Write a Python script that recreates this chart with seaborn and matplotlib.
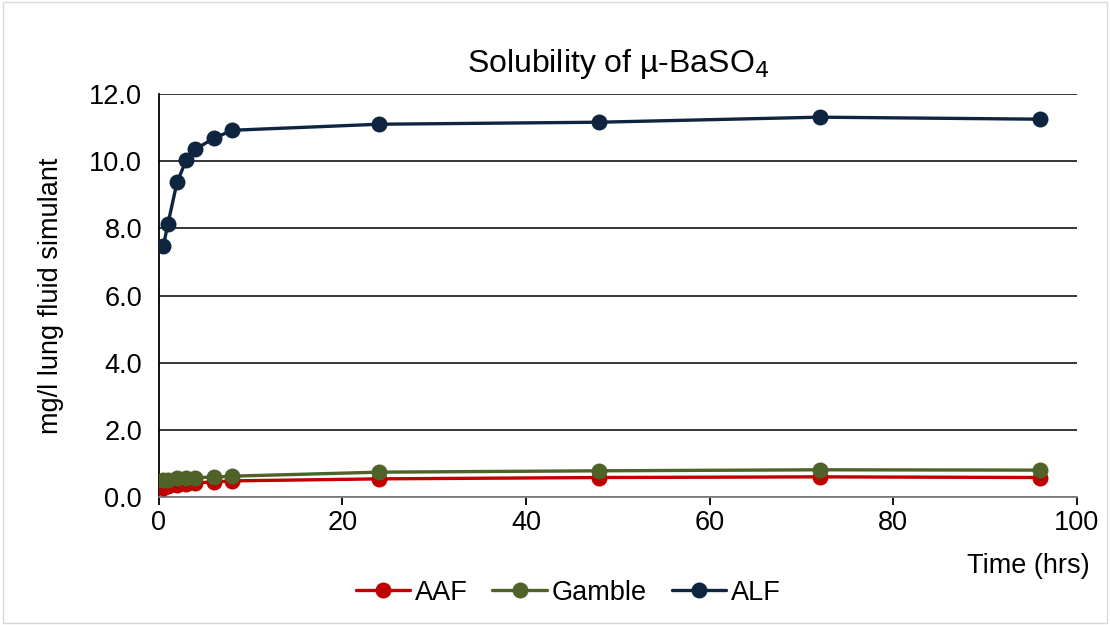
import matplotlib
matplotlib.use("Agg")
import matplotlib.pyplot as plt
import seaborn as sns
import pandas as pd

time_hrs = [0.5, 1, 2, 3, 4, 6, 8, 24, 48, 72, 96]
aaf = [0.28, 0.32, 0.37, 0.40, 0.42, 0.45, 0.48, 0.54, 0.58, 0.60, 0.58]
gamble = [0.50, 0.52, 0.56, 0.57, 0.58, 0.59, 0.62, 0.74, 0.78, 0.81, 0.80]
alf = [7.47, 8.13, 9.38, 10.03, 10.36, 10.68, 10.92, 11.10, 11.16, 11.31, 11.25]
series_names = ["AAF", "Gamble", "ALF"]
colors = ["#C00000", "#4F6228", "#0F243E"]

df = pd.DataFrame({
    "time": time_hrs * 3,
    "value": aaf + gamble + alf,
    "series": sum([[n] * len(time_hrs) for n in series_names], []),
})

sns.set_theme(style="white")
plt.rcParams["font.family"] = ["Liberation Sans", "DejaVu Sans"]
plt.rcParams["text.color"] = "black"
plt.rcParams["axes.labelcolor"] = "black"
plt.rcParams["xtick.color"] = "black"
plt.rcParams["ytick.color"] = "black"

FS = 19.5

fig = plt.figure(figsize=(11.1, 6.25), dpi=100)
ax = fig.add_axes([0.143, 0.2048, 0.827, 0.6448])

sns.lineplot(data=df, x="time", y="value", hue="series", hue_order=series_names,
             palette=colors, marker="o", markersize=11.5, linewidth=2.4,
             markeredgewidth=0, ax=ax, legend=True, zorder=3)

ax.set_xlim(0, 100)
ax.set_ylim(0, 12)
ax.set_xticks(range(0, 101, 20))
ax.set_yticks(range(0, 13, 2))
ax.set_yticklabels([f"{v:.1f}" for v in range(0, 13, 2)])
ax.yaxis.grid(True, color="black", linewidth=1.1)
ax.set_axisbelow(True)
for s in ["top", "right"]:
    ax.spines[s].set_visible(False)
ax.spines["left"].set_color("black")
ax.spines["left"].set_linewidth(1.3)
ax.spines["bottom"].set_color("#7f7f7f")
ax.spines["bottom"].set_linewidth(1.3)
ax.tick_params(axis="x", direction="out", length=6, width=1.3, color="black",
               labelcolor="black", labelsize=FS, pad=3, bottom=True)
ax.tick_params(axis="y", length=0, labelsize=FS, labelcolor="black", pad=12)
ax.set_xlabel("")
ax.set_ylabel("mg/l lung fluid simulant", fontsize=FS, labelpad=18, color="black")
fig.text(0.982, 0.094, "Time (hrs)", ha="right", va="center", fontsize=FS, color="black")
ax.set_title("Solubility of µ-BaSO$_4$", fontsize=23, pad=16, color="black")

handles, labels = ax.get_legend_handles_labels()
leg = ax.legend(handles, labels, loc="center", bbox_to_anchor=(0.512, 0.052),
                bbox_transform=fig.transFigure, ncol=3, frameon=False, fontsize=FS,
                handlelength=2.0, columnspacing=0.9, handletextpad=0.2)
for t in leg.get_texts():
    t.set_color("black")

fig.patches.append(plt.Rectangle((0.003, 0.003), 0.994, 0.994, transform=fig.transFigure,
                                 fill=False, edgecolor="#d9d9d9", linewidth=1))

fig.savefig("out.png", dpi=100)
